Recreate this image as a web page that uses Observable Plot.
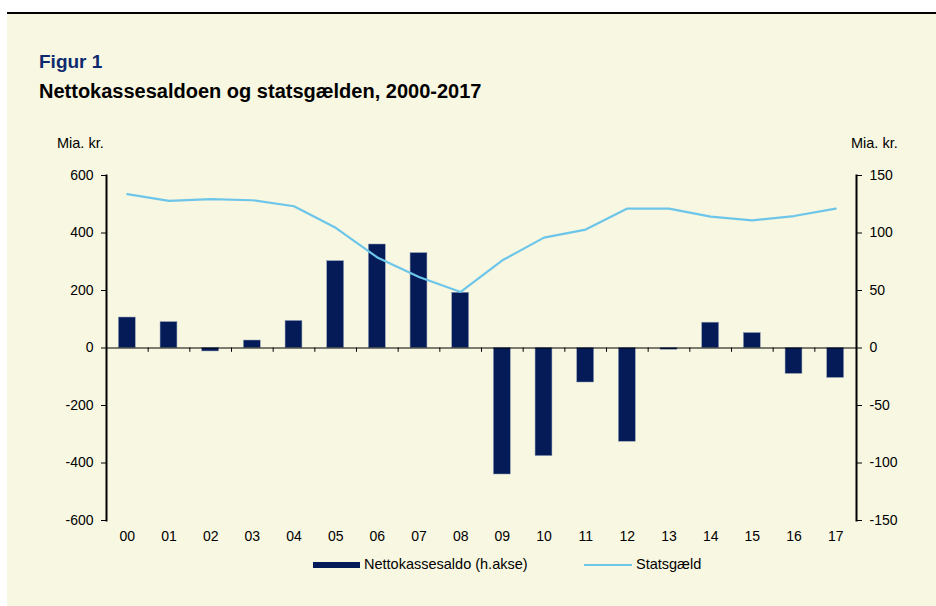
<!DOCTYPE html>
<html>
<head>
<meta charset="utf-8">
<script src="https://cdn.jsdelivr.net/npm/d3@7"></script>
<script src="https://cdn.jsdelivr.net/npm/@observablehq/plot@0.6"></script>
<style>
  html, body { margin: 0; padding: 0; background: #ffffff; }
  #wrap { position: relative; width: 936px; height: 606px; overflow: hidden; font-family: "Liberation Sans", Arial, sans-serif; }
  #topline { position: absolute; left: 7px; right: 0; top: 12px; height: 1.5px; background: #000; }
  #panel { position: absolute; left: 7px; top: 13px; width: 929px; height: 593px; background: #F8F7E1; }
  .t1 { position: absolute; left: 39px; top: 51px; font-size: 19px; font-weight: bold; color: #0D2A6E; }
  .t2 { position: absolute; left: 39px; top: 80px; font-size: 20px; font-weight: bold; color: #000; }
  .unit { position: absolute; top: 135px; font-size: 14.5px; color: #000; }
  #chart { position: absolute; left: 0; top: 150px; }
  .leg { position: absolute; top: 556px; font-size: 14.5px; color: #000; }
  .sw { position: absolute; }
</style>
</head>
<body>
<div id="wrap">
  <div id="panel"></div>
  <div id="topline"></div>
  <div class="t1">Figur 1</div>
  <div class="t2">Nettokassesaldoen og statsgælden, 2000-2017</div>
  <div class="unit" style="left:57px">Mia. kr.</div>
  <div class="unit" style="left:851px">Mia. kr.</div>
  <div id="chart"></div>
  <div class="sw" style="left:313px; top:562px; width:47px; height:6px; background:#041B58;"></div>
  <div class="leg" style="left:364px">Nettokassesaldo (h.akse)</div>
  <div class="sw" style="left:584px; top:564px; width:48px; height:2px; background:#6DC6EA;"></div>
  <div class="leg" style="left:636px">Statsgæld</div>
</div>
<script>
// Data
const years = ["00","01","02","03","04","05","06","07","08","09","10","11","12","13","14","15","16","17"];
// Nettokassesaldo (right axis, mia. kr.)
const nettokassesaldo = [26.5, 22.5, -3, 6.5, 23.5, 75.5, 90, 82.5, 48, -110, -94, -30, -81.5, -1.5, 22, 13, -22.5, -26];
// Statsgæld (left axis, mia. kr.)
const statsgaeld = [535, 512, 518, 514, 493, 418, 315, 247, 195, 305, 384, 412, 485, 485, 457, 444, 459, 485];
// Tick labels
const leftTicks = [-600, -400, -200, 0, 200, 400, 600];
const rightTicks = [-150, -100, -50, 0, 50, 100, 150];

const ratio = 4; // left units per right unit (600 / 150)
const data = years.map((y, i) => ({year: y, netto: nettokassesaldo[i], gaeld: statsgaeld[i]}));

const W = 936, H = 410, mL = 106, mR = 80;
const bw = (W - mL - mR) / years.length;

const chart = Plot.plot({
  width: W,
  height: H,
  marginLeft: mL,
  marginRight: mR,
  marginTop: 25,
  marginBottom: 40,
  style: {background: "transparent", fontFamily: "Liberation Sans, Arial, sans-serif", fontSize: "14px", color: "#000"},
  x: {type: "band", domain: years, padding: 0, round: false},
  y: {domain: [-600, 600]},
  marks: [
    Plot.barY(data, {x: "year", y: d => d.netto * ratio, fill: "#041B58", stroke: "#8d99b3", strokeWidth: 0.5, insetLeft: 12.4, insetRight: 12.4}),
    Plot.ruleY([0], {stroke: "#000", strokeWidth: 1}),
    Plot.ruleX(years.slice(1), {x: d => d, dx: -bw / 2, y1: 0, y2: -15, stroke: "#000", strokeWidth: 1}),
    Plot.line(data, {x: "year", y: "gaeld", stroke: "#6DC6EA", strokeWidth: 2.2}),
    Plot.axisY(leftTicks, {anchor: "left", tickSize: 5, tickPadding: 8, label: null, tickFormat: d => String(d), fontSize: 14}),
    Plot.axisY(rightTicks.map(v => v * ratio), {anchor: "right", tickSize: 5, tickPadding: 8, label: null, tickFormat: d => String(d / ratio), fontSize: 14}),
    Plot.axisX({anchor: "bottom", tickSize: 0, tickPadding: 11, label: null, fontSize: 14}),
    Plot.frame({anchor: "left", stroke: "#000", strokeWidth: 2}),
    Plot.frame({anchor: "right", stroke: "#000", strokeWidth: 2})
  ]
});
document.getElementById("chart").appendChild(chart);
</script>
</body>
</html>
